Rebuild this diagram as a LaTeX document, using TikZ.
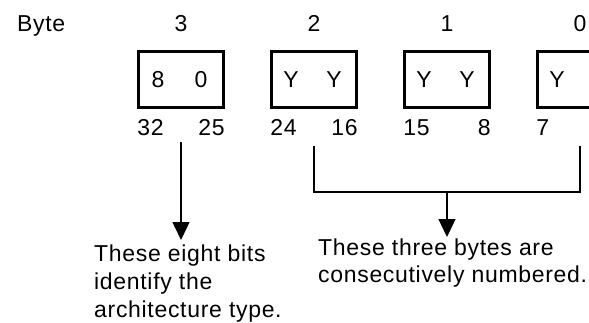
\documentclass[tikz,border=0pt]{standalone}
\usepackage{fontspec}
\setmainfont[LetterSpace=3]{Liberation Sans}
\usetikzlibrary{arrows.meta,positioning}

\begin{document}
\begin{tikzpicture}[x=1pt,y=-1pt,
    every node/.style={font=\fontsize{23}{27}\selectfont,inner sep=0pt},
    bytebox/.style={draw,line width=2.6pt,minimum width=85pt,minimum height=56pt},
    ptr/.style={line width=1.4pt,-{Triangle[width=17pt,length=18pt]}}]
  \useasboundingbox (0,0) rectangle (589,322);
  \clip (0,0) rectangle (589,322);

  \node[anchor=base west] (byte) at (17,31) {Byte};

  % the four bytes of the word
  \foreach \n/\x/\lo/\hi/\lft/\rgt in {3/181/8/0/32/25, 2/314/Y/Y/24/16,
      1/447/Y/Y/15/8, 0/580/Y//7/} {
    \node[anchor=base] (num\n) at (\x,31) {\n};
    \node[bytebox] (b\n) at (\x,79.5) {};
    \node[anchor=base] (lo\n) at (\x-23,87) {\lo};
    \node[anchor=base] (hi\n) at (\x+20,87) {\hi};
    \node[anchor=base west] (lbit\n) at ([yshift=-27pt]b\n.south west) {\lft};
    \node[anchor=base east] (rbit\n) at ([yshift=-27pt]b\n.south east) {\rgt};
  }

  % arrow for the top byte
  \coordinate (top3) at (181,142);
  \coordinate (tip3) at (181,240);
  \draw[ptr] (top3) -- (tip3);

  % bracket over the three lower bytes
  \coordinate (top2) at (314,146);
  \coordinate (top0) at (580,146);
  \coordinate (mid) at (447,192);
  \coordinate (tipmid) at (447,237);
  \draw[line width=1.4pt] (top2) |- (mid) -| (top0);
  \draw[ptr] (mid) -- (tipmid);

  \node[anchor=north west,align=left] (archnote) at (94,245)
    {These eight bits\\[1pt]identify the\\[1pt]architecture type.};
  \node[anchor=north west,align=left] (seqnote) at (318,239)
    {These three bytes are\\consecutively numbered.};
\end{tikzpicture}
\end{document}
